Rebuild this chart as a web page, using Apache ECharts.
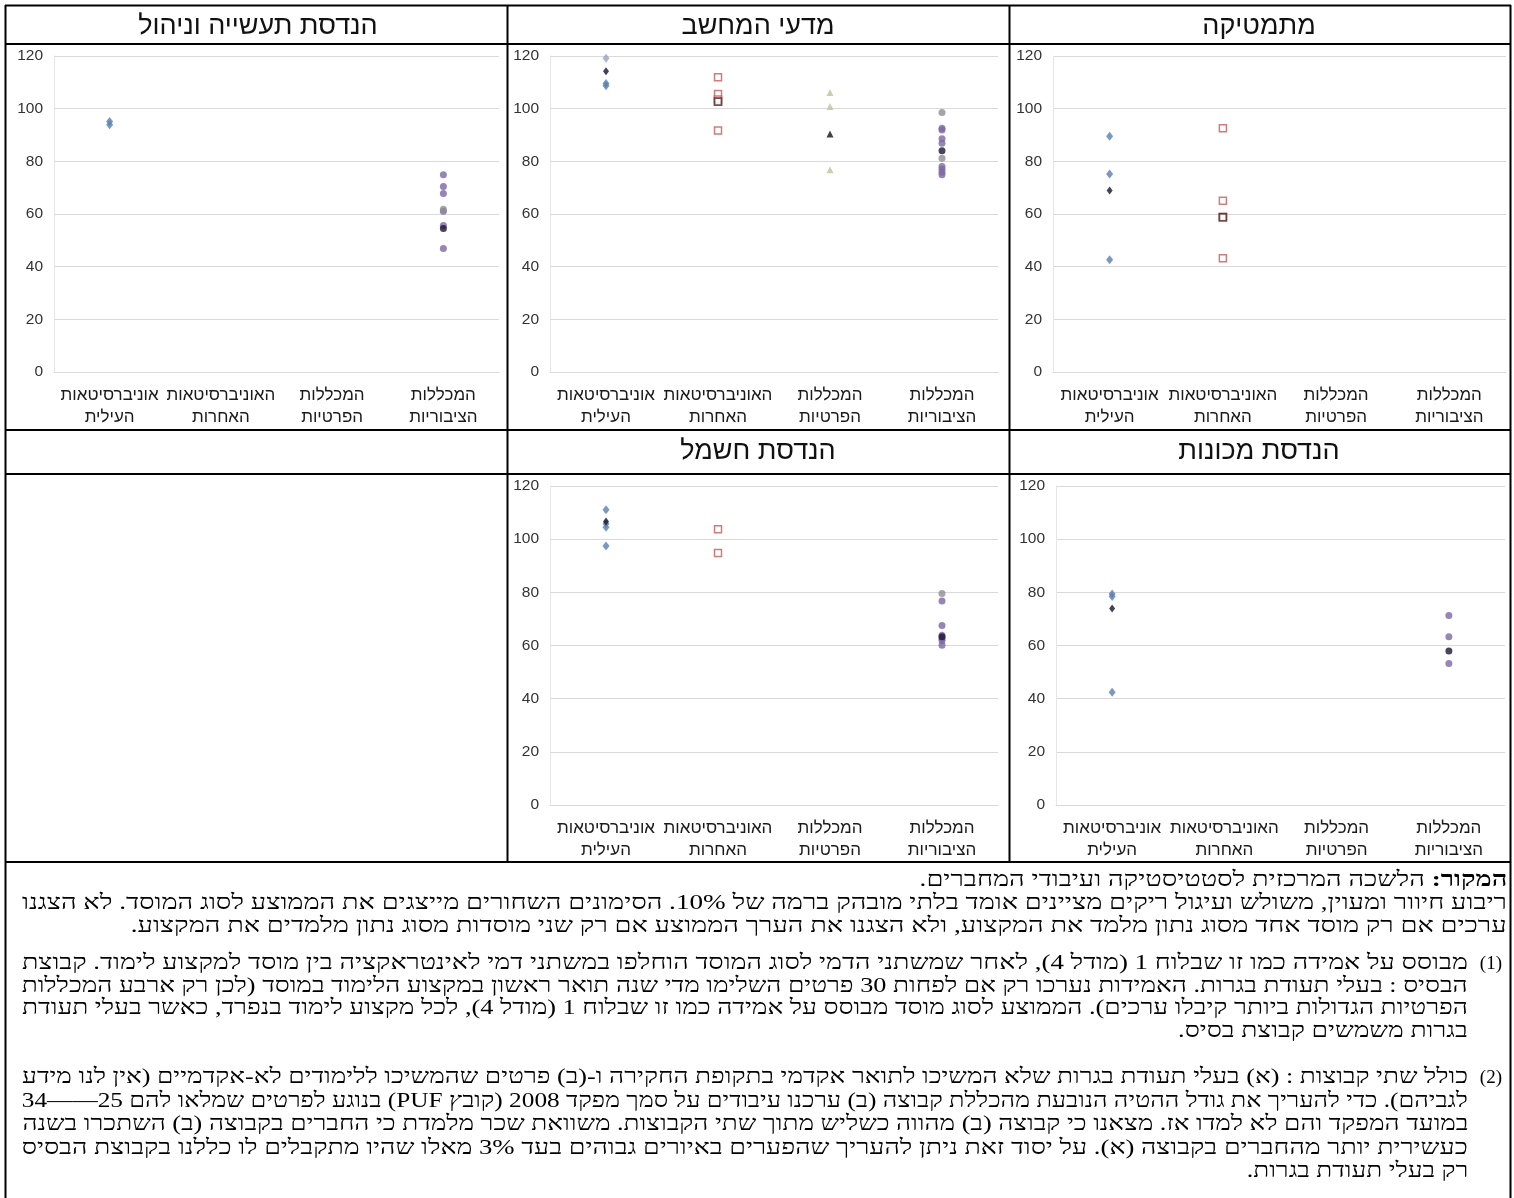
<!DOCTYPE html>
<html lang="he">
<head>
<meta charset="utf-8">
<script src="https://cdn.jsdelivr.net/npm/echarts@6/dist/echarts.min.js"></script>
<style>
html,body{margin:0;padding:0;background:#fff;}
#chart{position:absolute;left:0;top:0;width:1514px;height:1198px;}
.ln{position:absolute;height:23px;line-height:23px;white-space:nowrap;direction:rtl;font-family:'Liberation Serif',serif;font-size:21px;color:#000;transform-origin:100% 50%;}
.nm{position:absolute;height:23px;line-height:23px;white-space:nowrap;direction:rtl;font-family:'Liberation Serif',serif;font-size:19px;color:#000;right:12px;}
</style>
</head>
<body>
<div id="chart"></div>
<div id="notes">
  <div class="ln" data-p="0" data-r="7" data-w="0" style="top:868px"><b>המקור:</b> הלשכה המרכזית לסטטיסטיקה ועיבודי המחברים.</div>
  <div class="ln" data-p="0" data-r="7" data-w="1485" style="top:891px">ריבוע חיוור ומעוין, משולש ועיגול ריקים מציינים אומד בלתי מובהק ברמה של 10%. הסימונים השחורים מייצגים את הממוצע לסוג המוסד. לא הצגנו</div>
  <div class="ln" data-p="0" data-r="7" data-w="0" style="top:914px">ערכים אם רק מוסד אחד מסוג נתון מלמד את המקצוע, ולא הצגנו את הערך הממוצע אם רק שני מוסדות מסוג נתון מלמדים את המקצוע.</div>

  <div class="nm" style="top:951px">(1)</div>
  <div class="ln" data-p="1" data-r="46" data-w="1446" style="top:951px">מבוסס על אמידה כמו זו שבלוח 1 (מודל 4), לאחר שמשתני הדמי לסוג המוסד הוחלפו במשתני דמי לאינטראקציה בין מוסד למקצוע לימוד. קבוצת</div>
  <div class="ln" data-p="1" data-r="46" data-w="1446" style="top:974px">הבסיס : בעלי תעודת בגרות. האמידות נערכו רק אם לפחות 30 פרטים השלימו מדי שנה תואר ראשון במקצוע הלימוד במוסד (לכן רק ארבע המכללות</div>
  <div class="ln" data-p="1" data-r="46" data-w="1446" style="top:996px">הפרטיות הגדולות ביותר קיבלו ערכים). הממוצע לסוג מוסד מבוסס על אמידה כמו זו שבלוח 1 (מודל 4), לכל מקצוע לימוד בנפרד, כאשר בעלי תעודת</div>
  <div class="ln" data-p="1" data-r="46" data-w="0" style="top:1019px">בגרות משמשים קבוצת בסיס.</div>

  <div class="nm" style="top:1065px">(2)</div>
  <div class="ln" data-p="2" data-r="46" data-w="1446" style="top:1065px">כולל שתי קבוצות : (א) בעלי תעודת בגרות שלא המשיכו לתואר אקדמי בתקופת החקירה ו-(ב) פרטים שהמשיכו ללימודים לא-אקדמיים (אין לנו מידע</div>
  <div class="ln" data-p="2" data-r="46" data-w="1446" style="top:1089px">לגביהם). כדי להעריך את גודל ההטיה הנובעת מהכללת קבוצה (ב) ערכנו עיבודים על סמך מפקד 2008 (קובץ PUF) בנוגע לפרטים שמלאו להם 25——34</div>
  <div class="ln" data-p="2" data-r="46" data-w="1446" style="top:1112px">במועד המפקד והם לא למדו אז. מצאנו כי קבוצה (ב) מהווה כשליש מתוך שתי הקבוצות. משוואת שכר מלמדת כי החברים בקבוצה (ב) השתכרו בשנה</div>
  <div class="ln" data-p="2" data-r="46" data-w="1446" style="top:1136px">כעשירית יותר מהחברים בקבוצה (א). על יסוד זאת ניתן להעריך שהפערים באיורים גבוהים בעד 3% מאלו שהיו מתקבלים לו כללנו בקבוצת הבסיס</div>
  <div class="ln" data-p="2" data-r="46" data-w="0" style="top:1159px">רק בעלי תעודת בגרות.</div>
</div>
<script>
// ---------- data ----------
const categories = ['אוניברסיטאות\nהעילית', 'האוניברסיטאות\nהאחרות', 'המכללות\nהפרטיות', 'המכללות\nהציבוריות'];
const yTicks = [0, 20, 40, 60, 80, 100, 120];
const panelTitles = ['מתמטיקה', 'מדעי המחשב', 'הנדסת תעשייה וניהול', 'הנדסת מכונות', 'הנדסת חשמל'];

// Mathematics
const mathElite = [89.5, 75.2, 42.6];
const mathEliteMean = [68.9];
const mathOther = [92.6, 65.0, 59.0, 43.2];
const mathOtherMean = [58.7];
// Computer science
const csElite = [109.6, 108.7];
const csElitePale = [119.1];
const csEliteMean = [114.2];
const csOther = [111.9, 105.6, 103.5, 91.7];
const csOtherMean = [102.7];
const csPrivatePale = [106.1, 100.8, 76.8];
const csPrivateMean = [90.4];
const csPublic = [92.6, 91.9, 88.6, 86.9, 78.0, 77.0, 75.9, 74.9];
const csPublicPale = [98.5, 81.2];
const csPublicMean = [84.0];
// Industrial engineering & management
const ieElite = [95.1, 93.9];
const iePublic = [74.9, 70.4, 67.8, 61.0, 55.6, 46.9];
const iePublicPale = [61.8];
const iePublicMean = [54.5];
// Mechanical engineering
const mechElite = [79.4, 78.4, 42.4];
const mechEliteMean = [73.9];
const mechPublic = [71.3, 63.3, 53.2];
const mechPublicMean = [57.9];
// Electrical engineering
const eeElite = [111.1, 105.8, 104.5, 97.4];
const eeEliteMean = [106.6];
const eeOther = [103.7, 94.8];
const eePublic = [76.7, 67.5, 63.9, 62.6, 61.8, 60.1];
const eePublicPale = [79.6];
const eePublicMean = [63.3];

// ---------- styles ----------
const ST = {
  elite:      {symbol: 'diamond', symbolSize: [7, 9], itemStyle: {color: '#5a7fb0'}, z: 3},
  elitePale:  {symbol: 'diamond', symbolSize: [7, 9], itemStyle: {color: '#98a4bc'}, z: 3},
  eliteMean:  {symbol: 'diamond', symbolSize: [6, 8], itemStyle: {color: '#14142a'}, z: 5},
  other:      {symbol: 'rect', symbolSize: 7, itemStyle: {color: '#fff', borderColor: '#c65a5a', borderWidth: 1.5}, z: 3},
  otherMean:  {symbol: 'rect', symbolSize: 7, itemStyle: {color: '#fff', borderColor: '#4a2626', borderWidth: 1.8}, z: 5},
  privPale:   {symbol: 'triangle', symbolSize: 7, itemStyle: {color: '#b9c59c'}, z: 3},
  privMean:   {symbol: 'triangle', symbolSize: 7, itemStyle: {color: '#111'}, z: 5},
  pub:        {symbol: 'circle', symbolSize: 7, itemStyle: {color: '#7c68a2'}, z: 3},
  pubPale:    {symbol: 'circle', symbolSize: 7, itemStyle: {color: '#8d8d93'}, z: 3},
  pubMean:    {symbol: 'circle', symbolSize: 7, itemStyle: {color: '#1b1532'}, z: 5}
};

// panel contents: [categoryIndex, valuesArray, styleKey]
const panels = [
  [[0, mathElite, 'elite'], [0, mathEliteMean, 'eliteMean'], [1, mathOther, 'other'], [1, mathOtherMean, 'otherMean']],
  [[0, csElite, 'elite'], [0, csElitePale, 'elitePale'], [0, csEliteMean, 'eliteMean'],
   [1, csOther, 'other'], [1, csOtherMean, 'otherMean'],
   [2, csPrivatePale, 'privPale'], [2, csPrivateMean, 'privMean'],
   [3, csPublic, 'pub'], [3, csPublicPale, 'pubPale'], [3, csPublicMean, 'pubMean']],
  [[0, ieElite, 'elite'], [3, iePublic, 'pub'], [3, iePublicPale, 'pubPale'], [3, iePublicMean, 'pubMean']],
  [[0, mechElite, 'elite'], [0, mechEliteMean, 'eliteMean'], [3, mechPublic, 'pub'], [3, mechPublicMean, 'pubMean']],
  [[0, eeElite, 'elite'], [0, eeEliteMean, 'eliteMean'], [1, eeOther, 'other'],
   [3, eePublic, 'pub'], [3, eePublicPale, 'pubPale'], [3, eePublicMean, 'pubMean']]
];

// ---------- layout ----------
const grids = [
  {left: 1053, top: 56, width: 453, height: 316},
  {left: 550, top: 56, width: 448, height: 316},
  {left: 54, top: 56, width: 445, height: 316},
  {left: 1056, top: 486, width: 449, height: 319},
  {left: 550, top: 486, width: 448, height: 319}
];
const titlePos = [[1259, 27], [758, 27], [258, 27], [1259, 452], [758, 452]];

const chart = echarts.init(document.getElementById('chart'), null, {renderer: 'canvas'});

const xAxes = grids.map((g, i) => ({
  type: 'category', gridIndex: i, data: categories, boundaryGap: true,
  axisLine: {show: true, lineStyle: {color: '#d9d9d9', width: 1}},
  axisTick: {show: false},
  axisLabel: {interval: 0, fontFamily: 'Liberation Sans', fontSize: 17, lineHeight: 22, color: '#1a1a1a', margin: 12}
}));
const yAxes = grids.map((g, i) => ({
  type: 'value', gridIndex: i, min: yTicks[0], max: yTicks[yTicks.length - 1], interval: yTicks[1] - yTicks[0],
  axisLine: {show: true, lineStyle: {color: '#e6e6e6', width: 1}},
  axisTick: {show: false},
  splitLine: {show: true, lineStyle: {color: '#d9d9d9', width: 1}},
  axisLabel: {fontFamily: 'Liberation Sans', fontSize: 15.5, color: '#333', margin: 11}
}));

const series = [];
panels.forEach((items, pi) => {
  items.forEach(([ci, vals, key]) => {
    const s = ST[key];
    series.push({
      type: 'scatter', xAxisIndex: pi, yAxisIndex: pi,
      symbol: s.symbol, symbolSize: s.symbolSize, itemStyle: s.itemStyle, z: s.z,
      data: vals.map(v => [categories[ci], v]),
      silent: true
    });
  });
});

const graphic = [];
titlePos.forEach((p, i) => {
  graphic.push({type: 'text', x: p[0], y: p[1], style: {text: panelTitles[i], font: '27px "Liberation Sans"', fill: '#111', textAlign: 'center', textVerticalAlign: 'middle'}});
});
const L = (x1, y1, x2, y2) => graphic.push({type: 'line', shape: {x1, y1, x2, y2}, style: {stroke: '#000', lineWidth: 2}, z: 10});
L(5, 5.5, 1511, 5.5);
L(5.5, 5, 5.5, 1198);
L(1510.5, 5, 1510.5, 1198);
L(507.5, 5, 507.5, 862);
L(1009.5, 5, 1009.5, 862);
L(5, 44, 1511, 44);
L(5, 430, 1511, 430);
L(5, 474, 1511, 474);
L(5, 862, 1511, 862);

chart.setOption({
  animation: false,
  backgroundColor: '#fff',
  grid: grids,
  xAxis: xAxes,
  yAxis: yAxes,
  series: series,
  graphic: graphic
});

// ---------- fit footnote lines (stretched-font look of the original) ----------
(function fitNotes() {
  const lines = Array.from(document.querySelectorAll('.ln'));
  const groups = {};
  lines.forEach(el => {
    el.style.right = el.dataset.r + 'px';
    const nat = el.getBoundingClientRect().width;
    const w = +el.dataset.w;
    const g = el.dataset.p;
    groups[g] = groups[g] || [];
    if (w > 0) {
      const s = w / nat;
      el.style.transform = 'scaleX(' + s + ')';
      groups[g].push(s);
    }
  });
  const all = [].concat(...Object.values(groups));
  const avgAll = all.reduce((a, b) => a + b, 0) / all.length;
  lines.forEach(el => {
    if (+el.dataset.w === 0) {
      const arr = groups[el.dataset.p];
      const s = arr.length ? arr.reduce((a, b) => a + b, 0) / arr.length : avgAll;
      el.style.transform = 'scaleX(' + s + ')';
    }
  });
})();
</script>
</body>
</html>
